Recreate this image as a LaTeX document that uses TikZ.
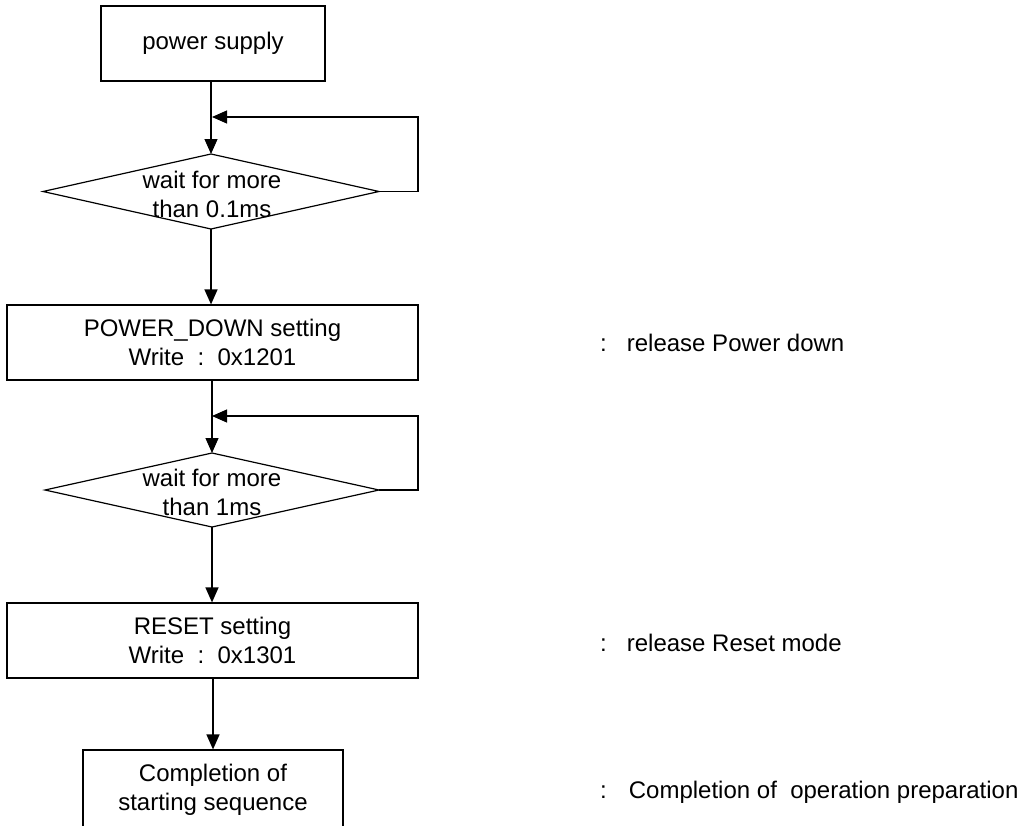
\documentclass[tikz,border=0pt]{standalone}
\usepackage{fontspec}
\setmainfont{Liberation Sans}
\usetikzlibrary{shapes.geometric,arrows.meta}
\begin{document}
\begin{tikzpicture}[x=1pt,y=1pt,
  every node/.style={font=\fontsize{24}{29}\selectfont, text=black},
  box/.style={draw, line width=1.2pt, inner sep=0pt, align=center},
  dia/.style={draw, diamond, line width=1.2pt, inner sep=0pt, outer sep=0pt},
  flow/.style={draw, line width=1.2pt, -{Triangle[length=15pt,width=13pt]}},
  note/.style={anchor=west, inner sep=0pt}]
\useasboundingbox (0,0) rectangle (1024,-825);
\node[box, minimum width=224pt, minimum height=75pt] (ps) at (213,-43.5) {power supply};
\node[dia, minimum width=336pt, minimum height=75pt] (d1) at (211,-191.5) {};
\node[align=center, inner sep=0pt] (t1) at (212,-194) {wait for more\\than 0.1ms};
\node[box, minimum width=411pt, minimum height=75pt] (pd) at (212.5,-342.5) {POWER\_DOWN setting\\Write~~:~~0x1201};
\node[dia, minimum width=334pt, minimum height=74pt] (d2) at (212,-490) {};
\node[align=center, inner sep=0pt] (t2) at (212,-492) {wait for more\\than 1ms};
\node[box, minimum width=411pt, minimum height=75pt] (rs) at (212.5,-640.5) {RESET setting\\Write~~:~~0x1301};
\node[box, minimum width=260pt, minimum height=80pt] (cp) at (213,-790) {Completion of\\starting sequence};
\coordinate (j1) at (212,-117);
\coordinate (r1) at (418,-191.5);
\coordinate (u1) at (418,-117);
\coordinate (j2) at (212,-416);
\coordinate (r2) at (418,-490);
\coordinate (u2) at (418,-416);
\draw[flow] (ps.south -| d1.north) -- (d1.north);
\draw[flow] (d1.east) -- (r1) -- (u1) -- (j1);
\draw[flow] (d1.south) -- (d1.south |- pd.north);
\draw[flow] (pd.south -| d2.north) -- (d2.north);
\draw[flow] (d2.east) -- (r2) -- (u2) -- (j2);
\draw[flow] (d2.south) -- (d2.south |- rs.north);
\draw[flow] (rs.south -| cp.north) -- (cp.north);
\node[note] (n1) at (600,-343) {:\hspace{20pt}release Power down};
\node[note] (n2) at (600,-643) {:\hspace{20pt}release Reset mode};
\node[note] (n3) at (600,-792) {:\hspace{22pt}Completion of~ operation preparation};
\end{tikzpicture}
\end{document}
